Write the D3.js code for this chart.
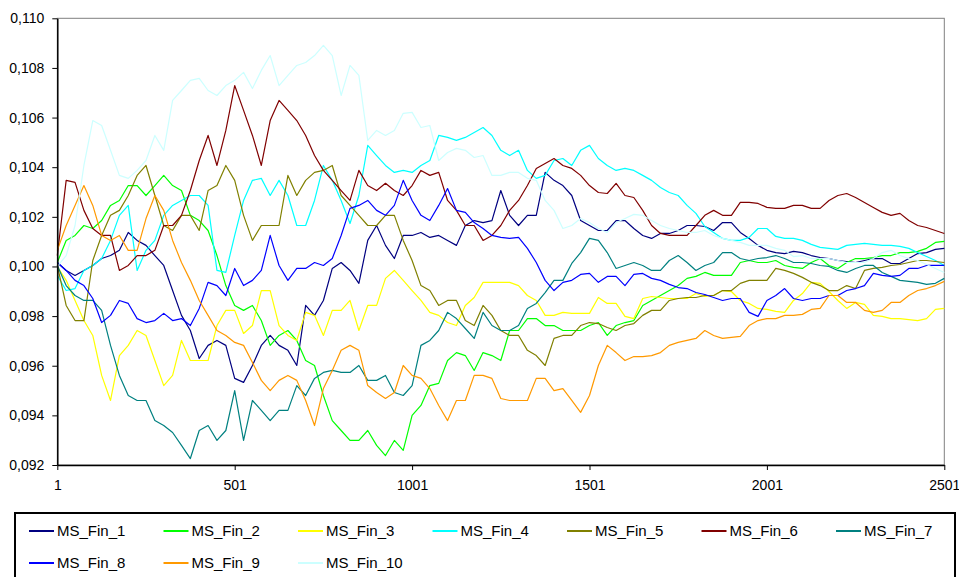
<!DOCTYPE html>
<html>
<head>
<meta charset="utf-8">
<script src="https://cdn.jsdelivr.net/npm/d3@7"></script>
<style>
  body { margin: 0; background: #fff; }
  text { font-family: Arial, "Liberation Sans", sans-serif; fill: #000; }
</style>
</head>
<body>
<svg id="chart" width="959" height="577"></svg>
<script>
// Simulation steps (one value every 25 steps, 1 … 2501)
const steps = d3.range(1, 2502, 25);

const MS_Fin_1 = [0.10016, 0.09984, 0.09964, 0.09984, 0.10004, 0.10032, 0.10044, 0.10065, 0.10137, 0.10105,
  0.10085, 0.10044, 0.10004, 0.09903, 0.09803, 0.09742, 0.09629, 0.09682, 0.09702, 0.09682,
  0.09549, 0.09533, 0.09601, 0.09682, 0.09722, 0.09682, 0.09662, 0.09601, 0.09843, 0.09803,
  0.09863, 0.09992, 0.10016, 0.09984, 0.09932, 0.10105, 0.10165, 0.10085, 0.10032, 0.10125,
  0.10125, 0.10137, 0.10117, 0.10125, 0.10105, 0.10085, 0.10165, 0.10185, 0.10177, 0.10185,
  0.10306, 0.10206, 0.10165, 0.10206, 0.10206, 0.10379, 0.10347, 0.10326, 0.10286, 0.10185,
  0.10165, 0.10145, 0.10145, 0.10185, 0.10185, 0.10153, 0.10125, 0.10113, 0.10133, 0.10133,
  0.10145, 0.10165, 0.10165, 0.10161, 0.10145, 0.10177, 0.10177, 0.10137, 0.10113, 0.10085,
  0.10065, 0.10056, 0.10052, 0.10061, 0.10056, 0.10044, 0.10036, 0.10032, 0.10024, 0.10020,
  0.10016, 0.10024, 0.10032, 0.10032, 0.10012, 0.10012, 0.10032, 0.10052, 0.10056, 0.10069,
  0.10073];
const MS_Fin_2 = [0.10016, 0.10105, 0.10125, 0.10165, 0.10153, 0.10185, 0.10246, 0.10266, 0.10326, 0.10326,
  0.10286, 0.10326, 0.10367, 0.10326, 0.10306, 0.10206, 0.10185, 0.10145, 0.10044, 0.09923,
  0.09843, 0.09823, 0.09843, 0.09782, 0.09682, 0.09722, 0.09742, 0.09702, 0.09621, 0.09601,
  0.09480, 0.09379, 0.09339, 0.09299, 0.09299, 0.09339, 0.09279, 0.09238, 0.09299, 0.09259,
  0.09400, 0.09440, 0.09520, 0.09529, 0.09621, 0.09653, 0.09641, 0.09581, 0.09653, 0.09641,
  0.09621, 0.09742, 0.09742, 0.09790, 0.09790, 0.09762, 0.09762, 0.09742, 0.09742, 0.09742,
  0.09762, 0.09774, 0.09722, 0.09762, 0.09774, 0.09782, 0.09843, 0.09863, 0.09883, 0.09903,
  0.09923, 0.09952, 0.09960, 0.09976, 0.09964, 0.09964, 0.09964, 0.10016, 0.10024, 0.10016,
  0.10016, 0.10024, 0.10004, 0.09996, 0.09992, 0.10016, 0.10032, 0.10004, 0.09992, 0.10016,
  0.10032, 0.10032, 0.10036, 0.10044, 0.10044, 0.10056, 0.10056, 0.10061, 0.10073, 0.10097,
  0.10101];
const MS_Fin_3 = [0.10000, 0.09944, 0.09863, 0.09782, 0.09722, 0.09561, 0.09460, 0.09641, 0.09682, 0.09742,
  0.09722, 0.09621, 0.09520, 0.09561, 0.09702, 0.09621, 0.09621, 0.09621, 0.09762, 0.09823,
  0.09823, 0.09730, 0.09762, 0.09903, 0.09903, 0.09762, 0.09722, 0.09702, 0.09815, 0.09803,
  0.09722, 0.09823, 0.09823, 0.09863, 0.09742, 0.09843, 0.09843, 0.09952, 0.09984, 0.09944,
  0.09903, 0.09863, 0.09815, 0.09803, 0.09774, 0.09762, 0.09843, 0.09875, 0.09936, 0.09936,
  0.09936, 0.09936, 0.09923, 0.09883, 0.09863, 0.09803, 0.09803, 0.09815, 0.09811, 0.09811,
  0.09811, 0.09875, 0.09851, 0.09851, 0.09799, 0.09790, 0.09871, 0.09879, 0.09875, 0.09871,
  0.09871, 0.09871, 0.09891, 0.09879, 0.09883, 0.09903, 0.09899, 0.09863, 0.09851, 0.09831,
  0.09827, 0.09819, 0.09815, 0.09863, 0.09891, 0.09936, 0.09932, 0.09899, 0.09863, 0.09831,
  0.09855, 0.09847, 0.09803, 0.09799, 0.09790, 0.09790, 0.09786, 0.09782, 0.09790, 0.09827,
  0.09831];
const MS_Fin_4 = [0.09964, 0.09903, 0.09911, 0.09984, 0.10004, 0.10032, 0.10105, 0.10206, 0.10246, 0.09984,
  0.10065, 0.10105, 0.10206, 0.10246, 0.10266, 0.10286, 0.10286, 0.10246, 0.09984, 0.09976,
  0.10125, 0.10266, 0.10347, 0.10355, 0.10286, 0.10347, 0.10286, 0.10165, 0.10165, 0.10266,
  0.10407, 0.10347, 0.10266, 0.10173, 0.10286, 0.10488, 0.10447, 0.10407, 0.10379, 0.10387,
  0.10379, 0.10407, 0.10427, 0.10528, 0.10520, 0.10508, 0.10520, 0.10540, 0.10560, 0.10528,
  0.10468, 0.10447, 0.10468, 0.10387, 0.10355, 0.10367, 0.10427, 0.10435, 0.10407, 0.10468,
  0.10488, 0.10435, 0.10407, 0.10387, 0.10395, 0.10387, 0.10367, 0.10347, 0.10318, 0.10298,
  0.10286, 0.10246, 0.10214, 0.10161, 0.10137, 0.10113, 0.10105, 0.10105, 0.10117, 0.10153,
  0.10153, 0.10121, 0.10113, 0.10113, 0.10105, 0.10089, 0.10077, 0.10073, 0.10069, 0.10085,
  0.10089, 0.10093, 0.10089, 0.10085, 0.10085, 0.10081, 0.10073, 0.10056, 0.10040, 0.10024,
  0.10004];
const MS_Fin_5 = [0.10004, 0.09843, 0.09782, 0.09782, 0.10024, 0.10125, 0.10206, 0.10226, 0.10286, 0.10367,
  0.10407, 0.10286, 0.10165, 0.10145, 0.10206, 0.10206, 0.10145, 0.10306, 0.10326, 0.10407,
  0.10347, 0.10206, 0.10105, 0.10165, 0.10165, 0.10165, 0.10367, 0.10286, 0.10347, 0.10379,
  0.10387, 0.10407, 0.10286, 0.10246, 0.10206, 0.10165, 0.10165, 0.10206, 0.10206, 0.10105,
  0.10024, 0.09923, 0.09903, 0.09843, 0.09863, 0.09863, 0.09782, 0.09762, 0.09843, 0.09803,
  0.09742, 0.09722, 0.09722, 0.09662, 0.09641, 0.09601, 0.09710, 0.09722, 0.09722, 0.09762,
  0.09774, 0.09770, 0.09754, 0.09742, 0.09762, 0.09770, 0.09803, 0.09823, 0.09823, 0.09863,
  0.09871, 0.09875, 0.09875, 0.09883, 0.09883, 0.09903, 0.09903, 0.09932, 0.09944, 0.09944,
  0.09944, 0.09992, 0.09984, 0.09972, 0.09956, 0.09936, 0.09923, 0.09903, 0.09903, 0.09923,
  0.09911, 0.09984, 0.09992, 0.09996, 0.10004, 0.10008, 0.10016, 0.10024, 0.10024, 0.10020,
  0.10016];
const MS_Fin_6 = [0.10044, 0.10347, 0.10339, 0.10226, 0.10153, 0.10125, 0.10125, 0.09984, 0.10004, 0.10044,
  0.10044, 0.10065, 0.10165, 0.10165, 0.10206, 0.10306, 0.10427, 0.10528, 0.10407, 0.10548,
  0.10729, 0.10629, 0.10528, 0.10407, 0.10588, 0.10669, 0.10629, 0.10588, 0.10528, 0.10447,
  0.10387, 0.10347, 0.10306, 0.10266, 0.10387, 0.10326, 0.10306, 0.10335, 0.10306, 0.10286,
  0.10326, 0.10387, 0.10367, 0.10379, 0.10266, 0.10226, 0.10165, 0.10165, 0.10105, 0.10125,
  0.10165, 0.10226, 0.10266, 0.10326, 0.10395, 0.10415, 0.10435, 0.10407, 0.10395, 0.10367,
  0.10326, 0.10298, 0.10294, 0.10335, 0.10286, 0.10278, 0.10226, 0.10165, 0.10133, 0.10125,
  0.10125, 0.10125, 0.10165, 0.10206, 0.10226, 0.10206, 0.10206, 0.10258, 0.10258, 0.10254,
  0.10238, 0.10234, 0.10234, 0.10246, 0.10246, 0.10234, 0.10234, 0.10266, 0.10286, 0.10294,
  0.10278, 0.10258, 0.10238, 0.10218, 0.10206, 0.10214, 0.10185, 0.10165, 0.10157, 0.10145,
  0.10133];
const MS_Fin_7 = [0.10004, 0.09923, 0.09883, 0.09863, 0.09863, 0.09823, 0.09682, 0.09561, 0.09480, 0.09460,
  0.09460, 0.09379, 0.09359, 0.09331, 0.09279, 0.09226, 0.09339, 0.09359, 0.09299, 0.09339,
  0.09500, 0.09299, 0.09460, 0.09420, 0.09379, 0.09420, 0.09420, 0.09520, 0.09480, 0.09549,
  0.09573, 0.09581, 0.09573, 0.09573, 0.09601, 0.09541, 0.09541, 0.09561, 0.09492, 0.09480,
  0.09520, 0.09682, 0.09702, 0.09742, 0.09815, 0.09790, 0.09750, 0.09710, 0.09815, 0.09762,
  0.09742, 0.09742, 0.09762, 0.09831, 0.09851, 0.09895, 0.09944, 0.09944, 0.10012, 0.10056,
  0.10113, 0.10105, 0.10056, 0.09992, 0.10004, 0.10016, 0.10004, 0.09984, 0.09984, 0.10024,
  0.10044, 0.10016, 0.09984, 0.10004, 0.10016, 0.10056, 0.10056, 0.10032, 0.10024, 0.10032,
  0.10036, 0.10044, 0.10032, 0.10016, 0.10016, 0.10012, 0.10004, 0.10000, 0.09984, 0.09976,
  0.09992, 0.10004, 0.10004, 0.09976, 0.09960, 0.09944, 0.09940, 0.09936, 0.09928, 0.09932,
  0.09952];
const MS_Fin_8 = [0.10016, 0.09984, 0.09944, 0.09923, 0.09871, 0.09774, 0.09803, 0.09863, 0.09851, 0.09790,
  0.09774, 0.09782, 0.09811, 0.09782, 0.09790, 0.09762, 0.09831, 0.09936, 0.09923, 0.09883,
  0.09992, 0.09923, 0.09944, 0.09984, 0.10125, 0.10004, 0.09944, 0.09992, 0.09992, 0.10016,
  0.10004, 0.10032, 0.10125, 0.10234, 0.10246, 0.10266, 0.10226, 0.10206, 0.10246, 0.10347,
  0.10266, 0.10206, 0.10185, 0.10246, 0.10314, 0.10226, 0.10218, 0.10177, 0.10153, 0.10125,
  0.10117, 0.10113, 0.10117, 0.10073, 0.10016, 0.09944, 0.09903, 0.09936, 0.09944, 0.09968,
  0.09972, 0.09936, 0.09960, 0.09960, 0.09923, 0.09968, 0.09972, 0.09952, 0.09944, 0.09928,
  0.09915, 0.09911, 0.09895, 0.09887, 0.09875, 0.09863, 0.09871, 0.09871, 0.09815, 0.09799,
  0.09863, 0.09883, 0.09911, 0.09871, 0.09863, 0.09871, 0.09871, 0.09883, 0.09883, 0.09903,
  0.09911, 0.09923, 0.09972, 0.09964, 0.09960, 0.09964, 0.09992, 0.09992, 0.10004, 0.10004,
  0.10004];
const MS_Fin_9 = [0.10065, 0.10165, 0.10246, 0.10326, 0.10246, 0.10125, 0.10105, 0.10125, 0.10065, 0.10065,
  0.10193, 0.10286, 0.10226, 0.10105, 0.10016, 0.09944, 0.09863, 0.09803, 0.09742, 0.09722,
  0.09694, 0.09682, 0.09613, 0.09541, 0.09500, 0.09541, 0.09561, 0.09541, 0.09460, 0.09359,
  0.09508, 0.09581, 0.09662, 0.09682, 0.09662, 0.09520, 0.09492, 0.09468, 0.09492, 0.09601,
  0.09561, 0.09549, 0.09508, 0.09440, 0.09379, 0.09460, 0.09460, 0.09561, 0.09561, 0.09549,
  0.09468, 0.09460, 0.09460, 0.09460, 0.09549, 0.09549, 0.09500, 0.09508, 0.09460, 0.09412,
  0.09480, 0.09601, 0.09682, 0.09653, 0.09621, 0.09637, 0.09637, 0.09641, 0.09653, 0.09682,
  0.09694, 0.09702, 0.09710, 0.09742, 0.09722, 0.09710, 0.09714, 0.09718, 0.09762, 0.09782,
  0.09790, 0.09790, 0.09803, 0.09803, 0.09807, 0.09827, 0.09831, 0.09883, 0.09883, 0.09855,
  0.09855, 0.09823, 0.09815, 0.09823, 0.09855, 0.09855, 0.09883, 0.09903, 0.09911, 0.09923,
  0.09940];
const MS_Fin_10 = [0.10000, 0.10044, 0.10165, 0.10407, 0.10588, 0.10568, 0.10468, 0.10367, 0.10355, 0.10387,
  0.10427, 0.10528, 0.10468, 0.10669, 0.10709, 0.10750, 0.10758, 0.10709, 0.10689, 0.10729,
  0.10750, 0.10782, 0.10717, 0.10790, 0.10850, 0.10729, 0.10770, 0.10810, 0.10822, 0.10850,
  0.10891, 0.10850, 0.10689, 0.10810, 0.10770, 0.10508, 0.10548, 0.10528, 0.10548, 0.10617,
  0.10621, 0.10560, 0.10568, 0.10427, 0.10459, 0.10476, 0.10468, 0.10439, 0.10447, 0.10367,
  0.10367, 0.10379, 0.10379, 0.10355, 0.10347, 0.10266, 0.10226, 0.10153, 0.10165, 0.10193,
  0.10177, 0.10153, 0.10137, 0.10177, 0.10193, 0.10210, 0.10206, 0.10185, 0.10165, 0.10153,
  0.10145, 0.10137, 0.10137, 0.10145, 0.10125, 0.10113, 0.10105, 0.10097, 0.10085, 0.10085,
  0.10085, 0.10073, 0.10065, 0.10040, 0.10044, 0.10032, 0.10032, 0.10032, 0.10024, 0.10016,
  0.10016, 0.10016, 0.10032, 0.10056, 0.10065, 0.10044, 0.10032, 0.10024, 0.10008, 0.09992,
  0.09976];

const seriesNames = ["MS_Fin_1", "MS_Fin_2", "MS_Fin_3", "MS_Fin_4", "MS_Fin_5",
                     "MS_Fin_6", "MS_Fin_7", "MS_Fin_8", "MS_Fin_9", "MS_Fin_10"];
const seriesColors = ["#000080", "#00FF00", "#FFFF00", "#00FFFF", "#808000",
                      "#800000", "#008080", "#0000FF", "#FF9900", "#CCFFFF"];
const yTicks = [0.092, 0.094, 0.096, 0.098, 0.100, 0.102, 0.104, 0.106, 0.108, 0.110];
const xTicks = [1, 501, 1001, 1501, 2001, 2501];

const allSeries = [MS_Fin_1, MS_Fin_2, MS_Fin_3, MS_Fin_4, MS_Fin_5,
                   MS_Fin_6, MS_Fin_7, MS_Fin_8, MS_Fin_9, MS_Fin_10];
const series = seriesNames.map((name, i) => ({
  name, color: seriesColors[i],
  points: steps.map((s, j) => ({ s, v: allSeries[i][j] }))
}));

const svg = d3.select("#chart");
const plot = { left: 57.3, right: 944.3, top: 18.3, bottom: 465 };

const x = d3.scaleLinear().domain([1, 2501]).range([plot.left, plot.right]);
const y = d3.scaleLinear().domain([0.092, 0.110]).range([plot.bottom, plot.top]);

// plot-area frame (grey on top/right)
svg.append("rect")
  .attr("x", plot.left).attr("y", plot.top)
  .attr("width", plot.right - plot.left).attr("height", plot.bottom - plot.top)
  .attr("fill", "#fff").attr("stroke", "#808080").attr("stroke-width", 1);

// lines
const line = d3.line().x(d => x(d.s)).y(d => y(d.v));
const g = svg.append("g");
series.forEach(sr => {
  g.append("path")
    .datum(sr.points)
    .attr("d", line)
    .attr("fill", "none")
    .attr("stroke", sr.color)
    .attr("stroke-width", 1.2)
    .attr("stroke-linejoin", "round");
});

// axes
const fmt = d => d3.format(".3f")(d).replace(".", ",");
const yAxis = svg.append("g")
  .attr("transform", `translate(${plot.left},0)`)
  .call(d3.axisLeft(y).tickValues(yTicks).tickFormat(fmt).tickSize(5).tickSizeOuter(0).tickPadding(8));
const xAxis = svg.append("g")
  .attr("transform", `translate(0,${plot.bottom})`)
  .call(d3.axisBottom(x).tickValues(xTicks).tickFormat(d3.format("d")).tickSize(5).tickSizeOuter(0).tickPadding(10));
[yAxis, xAxis].forEach(ax => {
  ax.select(".domain").attr("stroke", "#000").attr("stroke-width", 1.5);
  ax.selectAll(".tick line").attr("stroke", "#000");
  ax.selectAll(".tick text")
    .style("font-family", "Arial, 'Liberation Sans', sans-serif")
    .style("font-size", "14px").attr("fill", "#000");
});

// legend
const lg = svg.append("g");
lg.append("rect")
  .attr("x", 15).attr("y", 513).attr("width", 940).attr("height", 90)
  .attr("fill", "#fff").attr("stroke", "#000").attr("stroke-width", 2);
series.forEach((sr, i) => {
  const col = i % 7, row = Math.floor(i / 7);
  const lx = 29 + col * 134.5, ly = 531 + row * 32;
  lg.append("line")
    .attr("x1", lx).attr("x2", lx + 25).attr("y1", ly).attr("y2", ly)
    .attr("stroke", sr.color).attr("stroke-width", 2);
  lg.append("text")
    .attr("x", lx + 28).attr("y", ly).attr("dy", "0.36em")
    .style("font-size", "15px")
    .text(sr.name);
});
</script>
</body>
</html>
